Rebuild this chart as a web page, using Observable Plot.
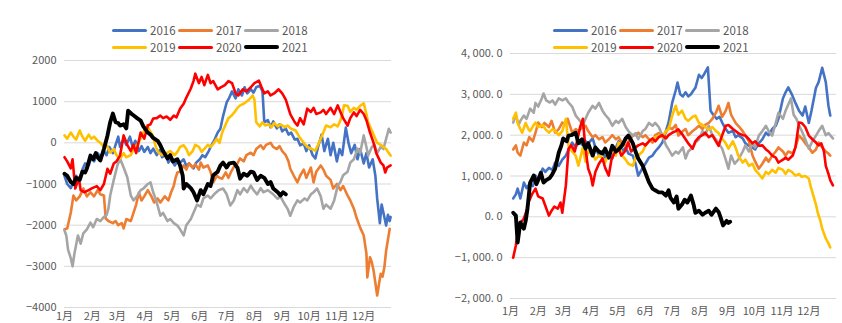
<!DOCTYPE html>
<html>
<head>
<meta charset="utf-8">
<script src="https://cdn.jsdelivr.net/npm/d3@7"></script>
<script src="https://cdn.jsdelivr.net/npm/@observablehq/plot@0.6"></script>
<style>
  body { margin: 0; background: #fff; }
  #wrap { position: relative; width: 842px; height: 323px; overflow: hidden; background: #fff; font-family: "Noto Sans CJK SC", sans-serif; }
  .panel { position: absolute; top: 0; }
  .leg { position: absolute; display: flex; align-items: center; font-size: 11.5px; color: #595959; white-space: nowrap; }
  .sw { display: inline-block; width: 35px; margin-right: 3px; border-radius: 2px; }
</style>
</head>
<body>
<div id="wrap"></div>
<script>
const years = ["2016", "2017", "2018", "2019", "2020", "2021"];
const colors = ["#4472C4", "#ED7D31", "#A5A5A5", "#FFC000", "#FF0000", "#000000"];
const months = ["1月","2月","3月","4月","5月","6月","7月","8月","9月","10月","11月","12月"];
const monthStart = [0, 31, 59, 90, 120, 151, 181, 212, 243, 273, 304, 334];
const leftTicks = [-4000, -3000, -2000, -1000, 0, 1000, 2000];
const rightTicks = [-2000, -1000, 0, 1000, 2000, 3000, 4000];

// Left chart: [day of year, value]
const L2016 = [[0,-800],[3,-1000],[7,-1100],[10,-950],[13,-800],[17,-900],[20,-650],[23,-500],[27,-550],[30,-350],[33,-450],[37,-250],[40,-350],[44,-200],[47,-300],[50,-100],[54,-250],[57,-50],[60,150],[62,-100],[66,100],[69,-50],[73,150],[76,-100],[79,50],[83,-200],[86,-80],[89,-220],[93,-100],[96,-250],[99,-140],[103,-300],[106,-180],[109,-350],[113,-280],[116,-480],[119,-380],[123,-550],[126,-450],[129,-480],[133,-400],[136,-560],[139,-500],[144,-620],[147,-480],[151,-400],[154,-300],[157,-350],[161,-200],[164,-60],[167,50],[171,250],[174,340],[177,650],[181,980],[184,1100],[187,1250],[191,1080],[194,1300],[198,1150],[201,1350],[204,1200],[208,1300],[211,1220],[214,1350],[218,1390],[221,1250],[223,500],[227,550],[230,380],[233,520],[237,350],[240,450],[243,280],[247,350],[250,200],[253,250],[257,80],[260,100],[263,-60],[267,-20],[270,-200],[273,-60],[277,-300],[280,-380],[283,-100],[287,200],[290,-200],[294,100],[297,-300],[300,0],[304,-450],[307,-150],[310,-300],[314,370],[317,0],[320,-250],[324,-50],[327,-400],[330,-150],[334,-500],[337,-250],[340,-600],[344,-400],[347,-800],[349,-1350],[352,-1950],[354,-1500],[356,-1700],[359,-2010],[361,-1750],[363,-1900],[364,-1800]];
const L2017 = [[0,-2100],[3,-2080],[7,-1700],[10,-1280],[13,-1400],[17,-1300],[21,-1110],[25,-1300],[29,-1200],[33,-1300],[37,-1150],[40,-1250],[44,-1280],[46,-1840],[49,-1900],[54,-1950],[57,-1900],[60,-2000],[64,-1950],[66,-2080],[69,-1850],[74,-1900],[77,-1700],[80,-1500],[83,-1210],[86,-1400],[89,-1300],[93,-1150],[97,-1300],[100,-1450],[104,-1350],[107,-1450],[112,-1300],[116,-1400],[119,-1200],[122,-1040],[124,-850],[126,-720],[129,-700],[133,-550],[136,-650],[139,-500],[143,-600],[146,-520],[150,-650],[152,-480],[155,-600],[160,-550],[163,-700],[166,-960],[170,-800],[173,-850],[176,-870],[180,-720],[183,-850],[186,-700],[190,-550],[193,-500],[196,-380],[200,-450],[203,-300],[208,-240],[211,-300],[214,-150],[219,-60],[222,-150],[225,-50],[230,0],[233,-100],[237,-150],[240,-80],[243,-200],[247,-300],[250,-450],[252,-630],[256,-800],[260,-960],[263,-800],[267,-650],[270,-850],[275,-600],[278,-960],[281,-700],[286,-550],[289,-650],[292,-800],[297,-900],[300,-1110],[304,-1000],[308,-1150],[311,-1050],[316,-1280],[319,-1400],[323,-1600],[326,-1820],[330,-2060],[334,-2250],[337,-2690],[338,-3270],[341,-2780],[343,-2900],[345,-3100],[347,-3400],[349,-3710],[352,-3300],[353,-3180],[355,-3250],[357,-3030],[359,-2620],[363,-2090]];
const L2018 = [[0,-2130],[2,-2250],[4,-2600],[7,-2800],[9,-3000],[11,-2700],[15,-2250],[18,-2450],[21,-2200],[25,-2100],[29,-1940],[32,-2050],[36,-1850],[40,-1900],[44,-1800],[47,-1750],[49,-1600],[51,-1280],[55,-900],[59,-550],[62,-380],[66,-600],[70,-830],[74,-1280],[77,-1400],[81,-1300],[85,-1150],[88,-1110],[93,-1000],[96,-960],[99,-1200],[103,-1450],[107,-1770],[110,-1700],[115,-1900],[118,-1850],[122,-1950],[126,-2010],[129,-2100],[133,-2250],[136,-2000],[141,-1850],[144,-1700],[148,-1500],[152,-1550],[155,-1350],[160,-1280],[163,-1350],[167,-1250],[172,-1150],[177,-1110],[181,-1250],[185,-1520],[189,-1400],[193,-1150],[196,-1250],[200,-1100],[204,-1200],[208,-1040],[211,-1150],[215,-1250],[219,-1100],[222,-1200],[227,-1150],[230,-1200],[233,-1250],[238,-1360],[241,-1300],[246,-1500],[249,-1600],[252,-1770],[256,-1550],[260,-1400],[263,-1450],[268,-1350],[271,-1400],[275,-1250],[278,-1200],[282,-1110],[286,-1300],[289,-1600],[292,-1500],[297,-1600],[301,-1400],[305,-1040],[308,-950],[311,-790],[316,-700],[319,-480],[323,-400],[327,-140],[330,-250],[334,180],[337,-100],[339,-310],[343,-100],[346,-50],[349,-250],[353,-100],[356,-150],[359,100],[362,340],[364,250]];
const L2019 = [[0,180],[3,100],[7,250],[10,150],[13,80],[17,300],[20,150],[23,50],[27,200],[30,100],[33,150],[37,50],[40,0],[44,-100],[47,-60],[51,-240],[55,-150],[58,-300],[62,-380],[66,-250],[69,-350],[74,-300],[78,-120],[81,-60],[85,100],[88,250],[92,420],[95,300],[98,200],[102,-100],[105,-240],[109,-300],[114,-250],[118,-200],[123,-300],[126,-220],[129,-100],[133,-60],[136,-150],[139,-300],[143,-200],[146,-50],[150,-100],[153,-220],[156,-150],[160,-50],[163,-100],[166,-30],[170,100],[173,0],[176,250],[180,450],[183,600],[186,650],[190,750],[193,850],[196,910],[200,950],[203,1000],[206,1050],[210,1150],[212,1050],[214,500],[218,400],[221,500],[224,420],[228,450],[231,380],[234,480],[238,400],[241,450],[246,380],[249,420],[253,340],[258,300],[262,150],[267,0],[271,-100],[276,-150],[280,-190],[283,-50],[288,200],[292,420],[297,380],[301,450],[305,400],[309,600],[312,910],[316,900],[319,750],[323,850],[326,800],[330,900],[334,960],[337,700],[339,490],[343,300],[346,150],[349,0],[353,-50],[356,-100],[359,-150],[362,-250],[364,-310]];
const L2020 = [[0,-350],[3,-450],[7,-620],[9,-400],[12,-1110],[16,-850],[18,-1150],[22,-1200],[27,-1150],[31,-1100],[36,-1050],[40,-1150],[44,-1000],[48,-630],[51,-750],[55,-500],[58,-450],[62,-310],[66,180],[70,-50],[74,-200],[77,-50],[80,-250],[85,250],[89,100],[93,420],[96,450],[99,590],[103,600],[107,660],[110,600],[114,640],[118,560],[122,660],[125,620],[129,830],[133,950],[136,1100],[141,1320],[144,1500],[146,1680],[150,1450],[153,1600],[156,1400],[160,1650],[163,1450],[166,1500],[171,1300],[174,1340],[179,1400],[183,1500],[187,1450],[191,1200],[194,1150],[199,1300],[203,1250],[208,1350],[212,1450],[217,1510],[220,1350],[223,1200],[227,1250],[230,1150],[234,1200],[239,1300],[243,1200],[247,1050],[249,910],[252,700],[257,500],[260,420],[263,600],[267,450],[271,830],[275,750],[278,850],[281,700],[286,740],[289,800],[292,700],[297,850],[301,700],[305,910],[308,750],[311,600],[316,420],[319,600],[323,740],[326,650],[330,800],[334,700],[337,550],[341,250],[345,0],[348,-250],[353,-480],[356,-550],[358,-720],[360,-600],[364,-550]];
const L2021 = [[0,-750],[3,-800],[7,-950],[10,-1000],[13,-850],[17,-900],[20,-700],[23,-720],[25,-620],[29,-310],[32,-400],[35,-250],[37,-350],[40,-430],[44,-150],[48,180],[51,500],[54,710],[57,500],[60,480],[62,420],[66,450],[69,350],[71,780],[75,700],[78,650],[81,600],[85,540],[88,400],[93,250],[96,200],[99,120],[104,50],[107,-60],[110,-200],[115,-380],[118,-300],[121,-450],[126,-400],[129,-550],[132,-800],[133,-1110],[136,-1000],[141,-1100],[144,-1200],[148,-1400],[152,-1150],[155,-1250],[160,-1000],[163,-1050],[166,-790],[171,-700],[174,-550],[177,-480],[181,-600],[184,-500],[189,-480],[193,-600],[196,-870],[200,-750],[204,-800],[208,-700],[211,-720],[215,-900],[219,-800],[223,-850],[227,-1000],[230,-950],[233,-1110],[238,-1200],[241,-1280],[244,-1200],[247,-1250]];

// Right chart: [day of year, value]
const R2016 = [[3,450],[6,550],[8,690],[11,450],[15,840],[18,700],[21,800],[25,750],[28,1010],[31,900],[36,1180],[39,1100],[43,1200],[47,1150],[50,1330],[54,1250],[58,1400],[62,1500],[65,1650],[69,1820],[73,1700],[76,1850],[81,1750],[84,1850],[87,1800],[92,1920],[95,1700],[99,1500],[103,1600],[106,1450],[110,1550],[114,1430],[118,1700],[121,1850],[125,1600],[129,1700],[132,1550],[137,1500],[140,1300],[143,1010],[148,1200],[151,1300],[155,1450],[159,1500],[162,1600],[166,1700],[170,1820],[174,2100],[177,2310],[181,2790],[185,3100],[187,3290],[190,3000],[193,2950],[196,3050],[199,2950],[202,3000],[205,3100],[207,3160],[211,3480],[214,3400],[217,3500],[221,3660],[224,2600],[227,2500],[231,2400],[234,2450],[237,2310],[241,2150],[244,2060],[249,2100],[252,1950],[255,2000],[260,1920],[263,1800],[267,1740],[271,1700],[274,1650],[278,1800],[282,1900],[286,2060],[289,2000],[293,2150],[297,2230],[300,2400],[305,2900],[308,3050],[311,3170],[315,3000],[319,2790],[323,2600],[327,2480],[330,2700],[334,2300],[337,2600],[342,3160],[345,3300],[349,3650],[353,3300],[356,2720],[358,2480]];
const R2017 = [[3,1650],[6,1750],[8,1570],[11,1500],[15,1820],[18,1750],[21,1950],[25,1850],[28,2060],[31,2310],[35,2200],[38,2300],[43,2200],[46,2350],[50,2060],[54,2150],[58,2310],[62,2250],[64,2400],[67,2200],[69,2060],[73,2150],[76,2100],[81,2200],[84,2230],[87,2100],[92,1950],[95,2000],[99,1900],[103,1950],[106,1820],[110,1900],[114,2000],[118,1900],[121,1950],[125,1800],[129,1740],[132,1850],[137,1990],[140,2000],[143,2060],[148,1950],[151,2000],[155,1900],[159,1820],[162,2000],[166,2050],[170,2000],[174,2060],[177,2200],[181,2150],[185,2250],[188,1990],[193,2100],[196,2150],[199,2000],[204,2100],[207,2150],[211,2230],[215,2150],[218,2250],[222,2300],[226,2400],[230,2550],[233,2720],[237,2450],[241,2600],[244,2790],[247,2500],[252,2300],[255,2230],[260,2100],[263,1990],[267,1850],[271,1500],[274,1350],[278,1180],[282,1300],[286,1450],[289,1350],[293,1500],[297,1600],[300,1700],[305,1600],[308,1500],[311,1600],[316,1550],[319,1700],[323,1990],[327,1900],[330,1800],[334,1700],[338,1570],[342,1650],[345,1820],[349,1700],[353,1600],[356,1550],[358,1500]];
const R2018 = [[3,2310],[6,2500],[9,2250],[11,2350],[15,2480],[18,2400],[22,2650],[26,2550],[28,2790],[31,2700],[35,2900],[37,3020],[40,2850],[44,2800],[47,2850],[50,2750],[54,2900],[58,2850],[62,2900],[65,2800],[69,2700],[73,2480],[76,2400],[81,2250],[84,2400],[87,2550],[92,2720],[95,2650],[99,2790],[103,2600],[106,2500],[110,2400],[114,2230],[118,2350],[121,2300],[125,2400],[129,2200],[132,2100],[137,1990],[140,2050],[143,1900],[148,2100],[151,2150],[155,2300],[159,2230],[162,2300],[166,2200],[170,2000],[174,1760],[177,1650],[181,1500],[185,1600],[188,1550],[193,1700],[196,1430],[199,1600],[204,1700],[207,1820],[211,1900],[215,2100],[218,2000],[222,2230],[226,2000],[230,1900],[233,1800],[237,1670],[241,1400],[244,1180],[247,1500],[251,1300],[255,1400],[260,1600],[263,1750],[267,1600],[271,1800],[274,1700],[278,1990],[282,2100],[286,2230],[289,2100],[293,1990],[297,2300],[300,2550],[305,2400],[308,2600],[311,2750],[314,2900],[317,2500],[320,2400],[324,2200],[327,2060],[330,1900],[334,1670],[338,1850],[342,1990],[345,2100],[349,2230],[353,2000],[356,2050],[361,1920]];
const R2019 = [[3,2400],[6,2550],[8,2300],[11,2150],[13,2060],[17,2300],[20,2150],[22,2100],[26,2250],[28,2310],[31,2200],[36,2250],[39,2150],[43,2060],[47,2150],[50,2100],[54,2000],[58,2100],[62,2400],[65,1740],[69,1600],[73,1500],[76,1250],[81,1700],[84,1350],[87,1600],[92,1550],[95,1400],[99,1500],[103,1450],[106,1330],[110,1550],[114,1650],[118,1500],[121,1820],[125,1500],[129,1400],[132,1300],[137,1250],[140,1450],[143,1500],[148,1600],[151,1740],[155,1850],[159,1900],[162,1950],[166,1990],[170,1950],[174,2100],[177,2140],[181,2480],[185,2720],[188,2500],[192,2600],[196,2400],[199,2350],[204,2450],[207,2480],[211,2300],[215,2250],[218,2200],[222,2140],[226,2200],[230,2100],[233,2050],[237,1920],[241,1800],[244,1670],[249,1850],[252,1700],[255,1500],[260,1330],[263,1400],[267,1250],[271,1300],[274,1150],[278,1050],[282,940],[286,1100],[289,1050],[293,1150],[297,1080],[300,1200],[305,1150],[308,1050],[311,1150],[315,1100],[319,1010],[323,1050],[326,980],[330,1000],[334,940],[336,750],[338,600],[342,300],[344,100],[347,-100],[349,-290],[353,-530],[356,-650],[358,-750]];
const R2020 = [[3,-1000],[6,-700],[8,-400],[9,-210],[11,-150],[15,-40],[18,150],[20,350],[24,550],[28,690],[31,500],[36,450],[39,270],[43,30],[46,150],[49,250],[53,200],[56,350],[58,100],[62,770],[65,1670],[68,1750],[72,1600],[75,1900],[78,2200],[81,2400],[83,1900],[85,1500],[87,1180],[90,1000],[92,770],[95,1100],[99,1300],[103,1430],[106,1200],[110,1010],[113,1400],[116,1550],[121,1670],[124,1500],[128,1600],[132,1820],[135,1600],[140,1700],[143,1750],[148,1800],[151,1750],[155,1850],[159,1920],[162,1850],[166,1950],[170,2000],[174,1920],[177,2000],[181,2060],[185,2100],[188,2140],[193,2000],[196,1900],[199,1800],[204,1670],[207,1850],[211,1950],[215,2000],[218,2060],[222,1950],[226,2000],[230,1850],[233,1740],[237,2000],[241,2230],[244,2250],[249,2150],[252,2100],[255,2050],[260,2000],[263,1990],[267,1900],[271,1800],[274,1850],[278,1740],[282,1750],[286,1650],[289,1600],[293,1500],[297,1450],[300,1330],[305,1400],[308,1450],[311,1400],[316,1500],[319,1700],[323,2310],[326,2300],[330,2200],[334,1990],[338,1900],[342,1820],[345,1750],[348,1800],[351,1600],[353,1250],[356,1050],[358,900],[361,770]];
const R2021 = [[3,100],[6,30],[8,-630],[10,-300],[11,-140],[15,-290],[17,-100],[19,200],[22,840],[26,1010],[29,800],[31,900],[34,1080],[37,840],[40,900],[44,950],[47,1050],[50,1180],[54,1570],[57,1750],[59,1920],[63,1850],[65,1990],[68,2000],[73,2060],[76,1800],[80,1900],[84,1670],[87,1800],[92,1500],[95,1700],[99,1600],[103,1550],[106,1670],[110,1450],[114,1740],[118,1600],[121,1650],[125,1750],[129,1920],[132,1990],[137,1800],[140,1600],[143,1430],[148,1250],[151,1080],[155,850],[159,690],[162,650],[166,600],[170,600],[174,520],[177,650],[179,470],[183,350],[186,500],[188,200],[192,300],[195,420],[198,350],[202,520],[205,300],[207,100],[211,150],[215,50],[218,100],[222,150],[225,50],[230,200],[233,120],[235,0],[238,-210],[242,-100],[244,-150],[246,-120]];

const leftSeries = [L2016, L2017, L2018, L2019, L2020, L2021];
const rightSeries = [R2016, R2017, R2018, R2019, R2020, R2021];

function rowsOf(series) {
  const rows = [];
  series.forEach((pts, i) => pts.forEach(([day, value]) => rows.push({year: years[i], day, value})));
  return rows;
}

function makeChart(series, cfg) {
  const rows = rowsOf(series);
  const thin = rows.filter(r => r.year !== "2021");
  const thick = rows.filter(r => r.year === "2021");
  return Plot.plot({
    width: cfg.width,
    height: 323,
    marginLeft: cfg.ml, marginRight: cfg.mr, marginTop: cfg.mt, marginBottom: cfg.mb,
    style: {fontFamily: "'Noto Sans CJK SC', sans-serif", fontSize: "11px", color: "#595959", background: "transparent"},
    x: {domain: [0, 365], ticks: monthStart, tickFormat: d => months[monthStart.indexOf(d)], tickSize: 0, tickPadding: cfg.xpad, label: null},
    y: {domain: cfg.domain, ticks: cfg.ticks, tickFormat: cfg.fmt, tickSize: 0, tickPadding: 8, label: null},
    color: {domain: years, range: colors},
    marks: [
      Plot.ruleY(cfg.ticks, {stroke: "#d9d9d9", strokeWidth: 1}),
      Plot.lineY(thin, {x: "day", y: "value", z: "year", stroke: "year", strokeWidth: 2.6, strokeLinejoin: "round"}),
      Plot.lineY(thick, {x: "day", y: "value", stroke: "year", strokeWidth: 3.9, strokeLinejoin: "round"})
    ]
  });
}

const fmtRight = d => d3.format(",.1f")(d).replace(",", ", ").replace(".", ". ");

const wrap = document.getElementById("wrap");

const left = makeChart(leftSeries, {width: 420, ml: 64, mr: 29, mt: 60, mb: 16, xpad: 5, domain: [-4000, 2000], ticks: leftTicks, fmt: d3.format("d")});
left.classList.add("panel"); left.style.left = "0px";
wrap.appendChild(left);

const right = makeChart(rightSeries, {width: 422, ml: 90, mr: 6, mt: 53, mb: 25, xpad: 9, domain: [-2000, 4000], ticks: rightTicks, fmt: fmtRight});
right.classList.add("panel"); right.style.left = "420px";
wrap.appendChild(right);

function legend(x0, yRows) {
  years.forEach((y, i) => {
    const row = Math.floor(i / 3), col = i % 3;
    const item = document.createElement("div");
    item.className = "leg";
    item.style.left = (x0 + col * 66) + "px";
    item.style.top = (yRows[row] - 8) + "px";
    item.style.height = "16px";
    const sw = document.createElement("span");
    sw.className = "sw";
    sw.style.background = colors[i];
    sw.style.height = (y === "2021" ? 4 : 3) + "px";
    item.appendChild(sw);
    const t = document.createElement("span");
    t.textContent = y;
    item.appendChild(t);
    wrap.appendChild(item);
  });
}
legend(112, [30, 47]);
legend(553, [30, 47]);
</script>
</body>
</html>
